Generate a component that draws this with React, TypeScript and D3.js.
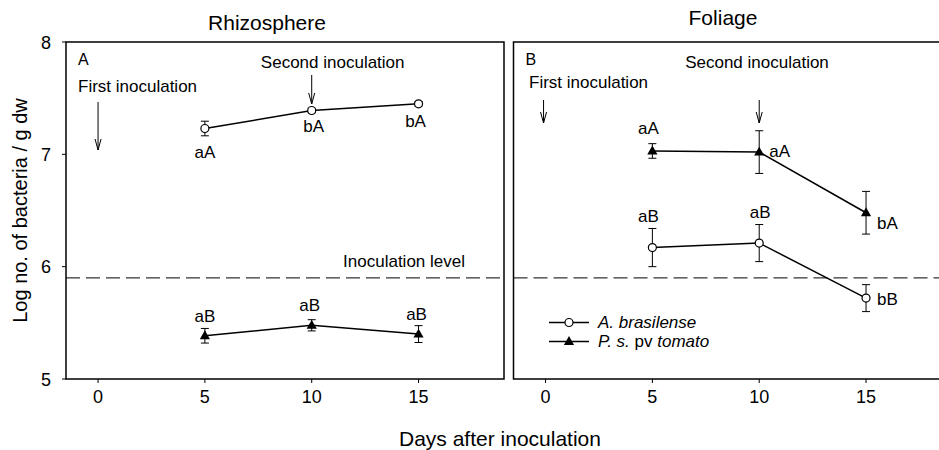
import React from "react";
import * as d3 from "d3";

const days = [5, 10, 15];
const xTicks = [0, 5, 10, 15];
const yTicks = [5, 6, 7, 8];
const inoculationLevel = 5.9;

const rhizoAbras = [7.23, 7.39, 7.45];
const rhizoAbrasErr = [0.065, 0.02, 0.02];
const rhizoPst = [5.385, 5.478, 5.4];
const rhizoPstErr = [0.065, 0.05, 0.075];

const foliAbras = [6.17, 6.21, 5.72];
const foliAbrasErr = [0.17, 0.165, 0.12];
const foliPst = [7.03, 7.02, 6.48];
const foliPstErr = [0.065, 0.19, 0.19];

const rhizoAbrasLetters = ["aA", "bA", "bA"];
const rhizoPstLetters = ["aB", "aB", "aB"];
const foliAbrasLetters = ["aB", "aB", "bB"];
const foliPstLetters = ["aA", "aA", "bA"];

const FONT = "'Liberation Sans', Arial, sans-serif";

const y = d3.scaleLinear().domain([5, 8]).range([379, 42]);
const xL = d3.scaleLinear().domain([-1.5, 19]).range([66, 504]);
const xR = d3.scaleLinear().domain([-1.5, 19]).range([513.5, 951.5]);

const tri = d3.symbol().type(d3.symbolTriangle).size(45)() as string;

type Off = [number, number, string];

function Series({ x, vals, errs, kind, letters, offs }: any) {
  const line = d3
    .line<number>()
    .x((_, i) => x(days[i]))
    .y((d) => y(d));
  return (
    <g>
      <path d={line(vals) as string} fill="none" stroke="#000" strokeWidth={1.5} />
      {vals.map((v: number, i: number) => {
        const cx = x(days[i]);
        const e = errs[i];
        return (
          <g key={i}>
            <line x1={cx} x2={cx} y1={y(v + e)} y2={y(v - e)} stroke="#000" strokeWidth={1} />
            <line x1={cx - 4} x2={cx + 4} y1={y(v + e)} y2={y(v + e)} stroke="#000" strokeWidth={1} />
            <line x1={cx - 4} x2={cx + 4} y1={y(v - e)} y2={y(v - e)} stroke="#000" strokeWidth={1} />
            {kind === "circle" ? (
              <circle cx={cx} cy={y(v)} r={4} fill="#fff" stroke="#000" strokeWidth={1.2} />
            ) : (
              <path d={tri} transform={`translate(${cx},${y(v) + 0.5})`} fill="#000" />
            )}
            <text
              x={cx + offs[i][0]}
              y={y(v) + offs[i][1]}
              textAnchor={offs[i][2]}
              fontSize={17}
              fontFamily={FONT}
            >
              {letters[i]}
            </text>
          </g>
        );
      })}
    </g>
  );
}

function Arrow({ x1, y1, y2 }: { x1: number; y1: number; y2: number }) {
  return (
    <g stroke="#000" strokeWidth={1} fill="none">
      <line x1={x1} x2={x1} y1={y1} y2={y2} />
      <path d={`M${x1 - 3},${y2 - 11} L${x1},${y2} L${x1 + 3},${y2 - 11}`} />
    </g>
  );
}

function Panel({ x, showY, letter }: any) {
  const [x0, x1] = x.range();
  return (
    <g>
      <rect x={x0} y={y(8)} width={x1 - x0} height={y(5) - y(8)} fill="none" stroke="#000" strokeWidth={1.5} />
      {xTicks.map((t) => (
        <g key={t}>
          <line x1={x(t)} x2={x(t)} y1={y(5)} y2={y(5) + 4} stroke="#000" strokeWidth={1} />
          <text x={x(t)} y={403} textAnchor="middle" fontSize={18} fontFamily={FONT}>
            {t}
          </text>
        </g>
      ))}
      {showY &&
        yTicks.map((t) => (
          <g key={t}>
            <line x1={x0 - 4} x2={x0} y1={y(t)} y2={y(t)} stroke="#000" strokeWidth={1} />
            <text x={51} y={y(t) + 6.5} textAnchor="end" fontSize={18} fontFamily={FONT}>
              {t}
            </text>
          </g>
        ))}
      <line
        x1={x0}
        x2={x1}
        y1={y(inoculationLevel)}
        y2={y(inoculationLevel)}
        stroke="#000"
        strokeWidth={1}
        strokeDasharray="14,6"
      />
      <text x={x0 + 12} y={65} fontSize={16} fontFamily={FONT}>
        {letter}
      </text>
    </g>
  );
}

export default function App() {
  return (
    <svg
      width={939}
      height={450}
      style={{ position: "absolute", left: 0, top: 0, background: "#fff" }}
    >
      <rect width={939} height={450} fill="#fff" />
      <Panel x={xL} showY letter="A" />
      <Panel x={xR} showY={false} letter="B" />

      <text x={267} y={30} textAnchor="middle" fontSize={21} fontFamily={FONT}>
        Rhizosphere
      </text>
      <text x={723} y={25} textAnchor="middle" fontSize={21} fontFamily={FONT}>
        Foliage
      </text>
      <text
        transform={`translate(27,${(y(5) + y(8)) / 2}) rotate(-90)`}
        textAnchor="middle"
        fontSize={20}
        fontFamily={FONT}
      >
        Log no. of bacteria / g dw
      </text>
      <text x={500} y={446} textAnchor="middle" fontSize={21} fontFamily={FONT}>
        Days after inoculation
      </text>

      {/* Left annotations */}
      <text x={78} y={92} fontSize={17} fontFamily={FONT}>First inoculation</text>
      <Arrow x1={xL(0)} y1={102} y2={150} />
      <text x={xL(10) + 21} y={68} textAnchor="middle" fontSize={17} fontFamily={FONT}>Second inoculation</text>
      <Arrow x1={xL(10)} y1={75} y2={104} />
      <text x={465} y={267} textAnchor="end" fontSize={17} fontFamily={FONT}>Inoculation level</text>

      {/* Right annotations */}
      <text x={529} y={88} fontSize={17} fontFamily={FONT}>First inoculation</text>
      <Arrow x1={xR(0) - 2} y1={100} y2={123} />
      <text x={757} y={68} textAnchor="middle" fontSize={17} fontFamily={FONT}>Second inoculation</text>
      <Arrow x1={xR(10)} y1={100} y2={123} />

      <Series
        x={xL}
        vals={rhizoAbras}
        errs={rhizoAbrasErr}
        kind="circle"
        letters={rhizoAbrasLetters}
        offs={[[0, 30, "middle"], [2, 21, "middle"], [-3, 23, "middle"]] as Off[]}
      />
      <Series
        x={xL}
        vals={rhizoPst}
        errs={rhizoPstErr}
        kind="tri"
        letters={rhizoPstLetters}
        offs={[[0, -14, "middle"], [-2, -14, "middle"], [-2, -14, "middle"]] as Off[]}
      />
      <Series
        x={xR}
        vals={foliAbras}
        errs={foliAbrasErr}
        kind="circle"
        letters={foliAbrasLetters}
        offs={[[-4, -26, "middle"], [1, -25, "middle"], [11, 7, "start"]] as Off[]}
      />
      <Series
        x={xR}
        vals={foliPst}
        errs={foliPstErr}
        kind="tri"
        letters={foliPstLetters}
        offs={[[-4, -17, "middle"], [10, 5, "start"], [11, 16, "start"]] as Off[]}
      />

      {/* Legend */}
      <g fontSize={17} fontFamily={FONT}>
        <line x1={549} x2={589} y1={322.5} y2={322.5} stroke="#000" strokeWidth={1.5} />
        <circle cx={569} cy={322.5} r={4} fill="#fff" stroke="#000" strokeWidth={1.2} />
        <text x={598} y={328} fontStyle="italic">A. brasilense</text>
        <line x1={549} x2={589} y1={341.5} y2={341.5} stroke="#000" strokeWidth={1.5} />
        <path d={tri} transform="translate(569,342)" fill="#000" />
        <text x={598} y={347}>
          <tspan fontStyle="italic">P. s.</tspan> pv <tspan fontStyle="italic">tomato</tspan>
        </text>
      </g>
    </svg>
  );
}
